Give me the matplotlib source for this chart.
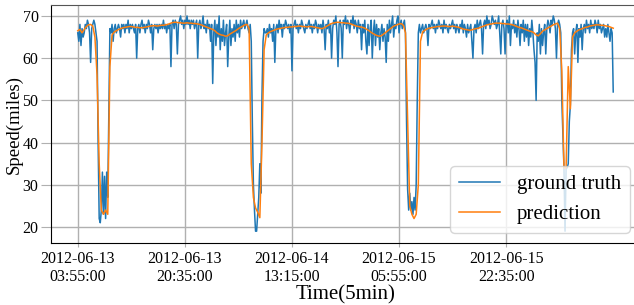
import numpy as np
import matplotlib
matplotlib.use("Agg")
import matplotlib.pyplot as plt

plt.rcParams['font.family'] = ['Liberation Serif', 'DejaVu Sans']

# ground truth speed, one value every 2 steps (10 min), split by section
gt_a = [66, 64, 68, 63, 67, 65, 66, 68, 67, 69,
        68, 66, 59, 67, 68, 69, 68, 66]
gt_dip1 = [64, 40, 22, 21, 24, 33, 23, 32, 22, 33, 27, 48]
gt_b = [67, 66, 68, 64, 67, 68, 66, 67, 68, 67,
        65, 68, 67, 68, 66, 68, 67, 69, 66, 68,
        67, 68, 67, 66, 68, 60, 67, 68, 66, 68,
        69, 67, 68, 66, 68, 67, 69, 68, 66, 68,
        62, 67, 68, 67, 68, 66, 68, 67, 68, 67,
        69, 67, 68, 66, 68, 67, 68, 58, 68, 69,
        67, 69, 68, 61, 68, 69, 70, 68, 69, 67,
        69, 68, 70, 68, 69, 67, 69, 68, 69, 67,
        68, 69, 60, 68, 69, 67, 68, 70, 67, 68,
        66, 69, 67, 68, 64, 68, 54, 66, 69, 63,
        68, 65, 70, 62, 67, 64, 69, 63, 66, 68,
        58, 65, 69, 63, 67, 65, 68, 64, 69, 66,
        68, 65, 69, 67, 68, 69, 67, 68, 69, 67,
        66]
gt_dip2 = [68, 64, 45, 30, 24, 19, 19, 23, 27, 35, 28, 51, 64, 67, 66]
gt_c = [66, 67, 65, 68, 66, 67, 64, 68, 59, 67,
        68, 66, 69, 67, 68, 65, 68, 67, 69, 68,
        67, 68, 66, 68, 57, 67, 68, 69, 67, 68,
        66, 68, 67, 69, 68, 67, 66, 68, 67, 68,
        69, 67, 68, 66, 68, 67, 69, 68, 66, 68,
        67, 68, 66, 69, 67, 62, 68, 67, 69, 66,
        68, 60, 67, 69, 68, 70, 66, 58, 68, 69,
        67, 60, 69, 68, 70, 67, 69, 68, 66, 69,
        68, 70, 67, 69, 68, 66, 69, 67, 68, 62,
        68, 66, 69, 64, 61, 68, 63, 67, 69, 60,
        66, 69, 63, 68, 65, 67, 62, 66, 68, 64,
        67, 65, 59, 68, 64, 69, 66, 68, 70, 65,
        68, 67, 69, 70, 66, 68, 69, 67, 68, 69]
gt_dip3 = [66, 45, 29, 24, 28, 24, 26, 23, 27, 24, 30, 50, 66, 68]
gt_d = [66, 67, 68, 66, 67, 68, 67, 63, 68, 67,
        68, 69, 67, 68, 66, 68, 67, 69, 68, 67,
        68, 66, 69, 67, 68, 67, 66, 68, 67, 68,
        69, 67, 68, 66, 68, 67, 66, 68, 67, 69,
        66, 68, 67, 65, 68, 66, 67, 68, 64, 60,
        67, 68, 66, 69, 67, 68, 69, 67, 61, 68,
        69, 67, 70, 68, 69, 67, 68, 70, 69, 68,
        69, 67, 68, 70, 66, 61, 68, 69, 67, 61,
        68, 69, 66, 70, 63, 68, 67, 69, 66, 68,
        65, 69, 67, 63, 68, 66, 69, 64, 68, 65,
        68, 63, 67, 65, 69, 66, 62, 59, 50, 66,
        64, 68, 61, 67, 63, 66, 68, 61, 67, 69,
        68, 66, 69, 68, 70, 69, 67, 60, 68, 69,
        68]
gt_dip4 = [66, 50, 42, 34, 19, 34, 34, 35, 45, 49, 62, 66]
gt_e = [67, 61, 66, 68, 59, 67, 65, 68, 62, 67,
        68, 66, 69, 67, 68, 66, 69, 67, 68, 67,
        69, 68, 66, 69, 67, 68, 66, 67, 68, 65,
        67, 65, 68, 66, 64, 67, 66, 52]

# model prediction, one value every 4 steps (20 min)
pr_a = [66.5, 66.8, 66.0, 66.8, 67.5, 67.9, 68.0, 67.6]
pr_dip1 = [65, 56, 35, 24, 23, 24, 23, 58]
pr_b = [65.5, 66.2, 66.5, 66.8, 67.0, 67.2, 67.3, 67.4, 67.5, 67.5,
        67.4, 67.3, 67.3, 67.2, 67.2, 67.3, 67.4, 67.5, 67.6, 67.7,
        67.7, 67.6, 67.7, 67.8, 67.8, 67.9, 68.0, 68.2, 68.4, 68.5,
        68.5, 68.4, 68.4, 68.3, 68.3, 68.4, 68.3, 68.3, 68.2, 68.2,
        68.1, 68.0, 67.8, 67.6, 67.4, 67.2, 67.0, 66.8, 66.5, 66.0,
        65.7, 65.5, 65.4, 65.2, 65.3, 65.7, 66.0, 66.3, 66.6, 67.0,
        67.3, 67.6, 67.9, 68.0, 67.0]
pr_dip2 = [35, 27, 24.5, 23.5, 22.2, 40, 62, 65.5]
pr_c = [66.0, 66.3, 66.5, 66.7, 66.9, 67.0, 67.1, 67.2, 67.3, 67.3,
        67.4, 67.4, 67.5, 67.5, 67.6, 67.6, 67.5, 67.5, 67.4, 67.5,
        67.5, 67.4, 67.3, 67.2, 67.1, 67.0, 67.2, 67.5, 67.8, 68.1,
        68.3, 68.4, 68.5, 68.5, 68.4, 68.4, 68.3, 68.3, 68.2, 68.0,
        67.8, 67.6, 67.5, 67.4, 67.3, 67.1, 66.8, 66.5, 66.1, 65.8,
        65.5, 65.3, 65.2, 65.4, 65.8, 66.2, 66.6, 67.0, 67.4, 67.7,
        67.9, 68.1, 68.2, 67.8]
pr_dip3 = [66, 45, 25, 23, 22, 23, 30, 64]
pr_d = [66.2, 66.6, 66.9, 67.1, 67.2, 67.3, 67.4, 67.5, 67.5, 67.6,
        67.6, 67.6, 67.5, 67.5, 67.6, 67.5, 67.4, 67.3, 67.1, 66.9,
        66.8, 66.7, 66.6, 66.7, 66.9, 67.0, 67.1, 67.3, 67.5, 67.7,
        67.9, 68.0, 68.1, 68.2, 68.3, 68.3, 68.3, 68.2, 68.2, 68.1,
        68.1, 68.0, 67.9, 67.7, 67.5, 67.3, 67.2, 67.0, 66.8, 66.6,
        66.4, 66.3, 66.0, 65.5, 65.3, 65.8, 66.4, 66.7, 67.0, 67.3,
        67.6, 67.9, 68.1, 68.3, 67.0]
pr_dip4 = [57, 34, 34, 58, 48, 65]
pr_e = [66.0, 66.4, 66.7, 66.9, 67.1, 67.3, 67.4, 67.6, 67.7, 67.8,
        67.9, 67.9, 67.8, 67.8, 67.7, 67.6, 67.5, 67.3, 67.1]

tick_labels = ['2012-06-13\n03:55:00', '2012-06-13\n20:35:00', '2012-06-14\n13:15:00',
               '2012-06-15\n05:55:00', '2012-06-15\n22:35:00']
tick_every = 200  # 5-min steps between tick labels

truth = np.array(gt_a + gt_dip1 + gt_b + gt_dip2 + gt_c + gt_dip3 + gt_d + gt_dip4 + gt_e, dtype=float)
pred = np.array(pr_a + pr_dip1 + pr_b + pr_dip2 + pr_c + pr_dip3 + pr_d + pr_dip4 + pr_e, dtype=float)
assert len(truth) == 501, len(truth)
assert len(pred) == 251, len(pred)

x_truth = np.arange(len(truth)) * 2
x_pred = np.arange(len(pred)) * 4

fig = plt.figure(figsize=(6.34, 3.05), dpi=100)
ax = fig.add_axes([51 / 634, 62 / 305, 589 / 634, 238 / 305])

ax.plot(x_truth, truth, color='#1f77b4', lw=1.1, label='ground truth')
ax.plot(x_pred, pred, color='#ff7f0e', lw=1.1, label='prediction')

ax.set_xlim(-50, 1050)
ax.set_ylim(16.2, 72.6)
ax.set_yticks([20, 30, 40, 50, 60, 70])
ax.set_xticks(np.arange(len(tick_labels)) * tick_every)
ax.set_xticklabels(tick_labels, linespacing=1.15)

ax.grid(True, color='#b0b0b0', lw=1.0)
ax.set_axisbelow(True)
ax.tick_params(axis='y', labelsize=11.5, length=7, color='#b0b0b0', pad=2)
ax.tick_params(axis='x', labelsize=11.5, length=3, color='#b0b0b0', pad=3)
for side in ['left', 'bottom']:
    ax.spines[side].set_color('black')
ax.spines['top'].set_color('#555555')
ax.spines['right'].set_visible(False)

ax.set_xlabel('Time(5min)', fontsize=15, labelpad=0)
ax.set_ylabel('Speed(miles)', fontsize=13.5, labelpad=0)
ax.legend(loc='lower right', fontsize=15)

fig.savefig('out.png', dpi=100)
